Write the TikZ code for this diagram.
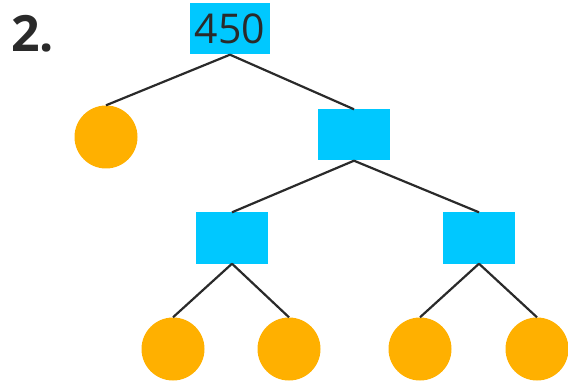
\documentclass[tikz,border=0pt]{standalone}
\usepackage{fontspec}
\setmainfont{Open Sans}
\definecolor{boxcyan}{HTML}{00C8FF}
\definecolor{ballorange}{HTML}{FFB000}
\definecolor{linegray}{HTML}{2A2A2A}
\begin{document}
\begin{tikzpicture}[x=1pt,y=-1pt,
  sq/.style={fill=boxcyan,draw=none,minimum width=72pt,minimum height=51pt,inner sep=0pt},
  ball/.style={circle,fill=ballorange,draw=none,minimum size=63pt,inner sep=0pt},
  conn/.style={draw=linegray,line width=2.2pt}]
\useasboundingbox (0,0) rectangle (568,385);
\node[anchor=north west,inner sep=0pt,text=linegray,font=\fontsize{50}{52}\selectfont\bfseries] (num) at (11,15) {2.};
\node[fill=boxcyan,minimum width=80pt,minimum height=51pt,inner sep=0pt,font=\fontsize{41}{44}\selectfont,text=linegray] (root) at (230,29) {450};
\node[ball] (c1) at (106,137) {};
\node[sq] (m) at (354,135) {};
\node[sq] (l) at (232,238) {};
\node[sq] (r) at (479,238) {};
\node[ball] (c2) at (173,349) {};
\node[ball] (c3) at (289,349) {};
\node[ball] (c4) at (420,349) {};
\node[ball] (c5) at (537,349) {};
\draw[conn] (root.south) -- (c1.north);
\draw[conn] (root.south) -- (m.north);
\draw[conn] (m.south) -- (l.north);
\draw[conn] (m.south) -- (r.north);
\draw[conn] (l.south) -- (c2.north);
\draw[conn] (l.south) -- (c3.north);
\draw[conn] (r.south) -- (c4.north);
\draw[conn] (r.south) -- (c5.north);
\end{tikzpicture}
\end{document}
